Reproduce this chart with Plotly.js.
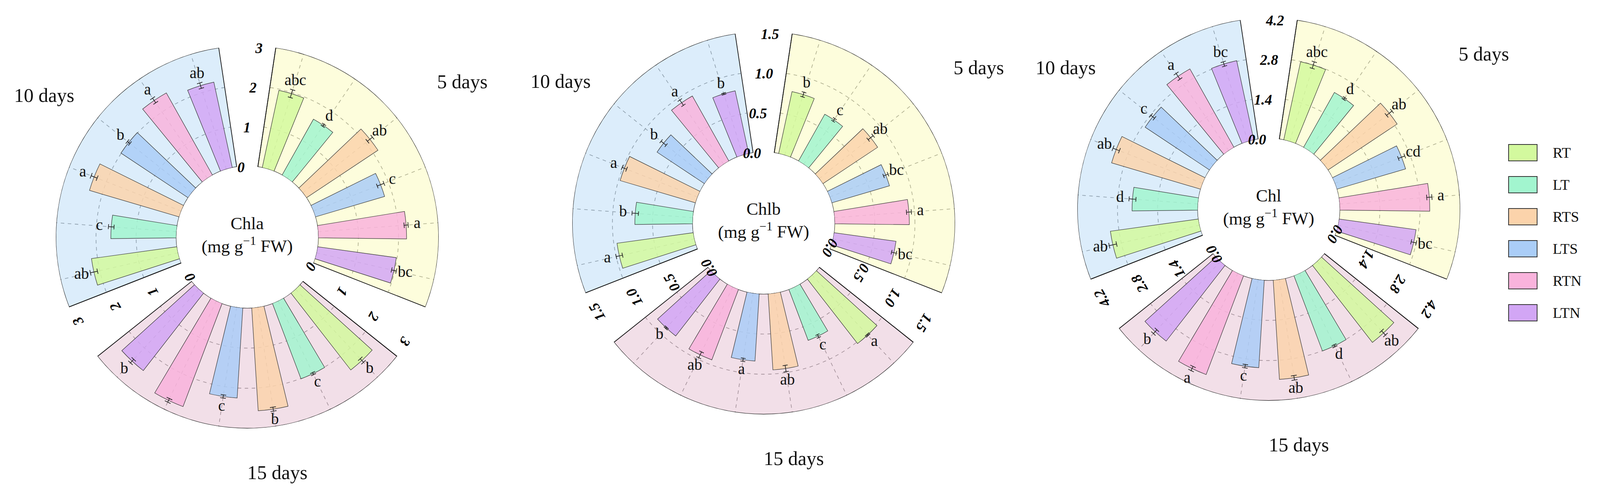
<!DOCTYPE html>
<html>
<head>
<meta charset="utf-8">
<script src="https://cdn.plot.ly/plotly-3.0.1.min.js"></script>
<style>
  html, body { margin: 0; padding: 0; background: #ffffff; }
  #chart { width: 4101px; height: 1260px; }
</style>
</head>
<body>
<div id="chart"></div>
<script>
  // ---- data ----
  const TREATMENTS = ['RT', 'LT', 'RTS', 'LTS', 'RTN', 'LTN'];
  const DAYS = ['5 days', '10 days', '15 days'];

  const CHLA_TICKS = [0, 1, 2, 3];
  const CHLB_TICKS = [0, 0.5, 1.0, 1.5];
  const CHL_TICKS = [0, 1.4, 2.8, 4.2];

  // values in treatment order RT, LT, RTS, LTS, RTN, LTN
  const CHLA_5D = [1.97, 1.60, 2.14, 1.80, 2.20, 1.98];
  const CHLA_10D = [2.15, 1.63, 2.33, 2.01, 2.35, 2.18];
  const CHLA_15D = [2.43, 2.01, 2.57, 2.25, 2.75, 2.45];
  const CHLB_5D = [0.79, 0.67, 0.82, 0.75, 0.93, 0.78];
  const CHLB_10D = [0.96, 0.72, 0.98, 0.71, 0.93, 0.80];
  const CHLB_15D = [1.02, 0.68, 0.95, 0.84, 0.94, 0.90];
  const CHL_5D = [2.79, 2.20, 2.90, 2.50, 3.14, 2.71];
  const CHL_10D = [3.10, 2.29, 3.24, 2.70, 3.14, 2.83];
  const CHL_15D = [3.41, 2.81, 3.47, 3.06, 3.69, 3.35];

  const CHLA_5D_ERR = [0.10, 0.03, 0.08, 0.09, 0.05, 0.06];
  const CHLA_10D_ERR = [0.09, 0.07, 0.08, 0.04, 0.07, 0.07];
  const CHLA_15D_ERR = [0.06, 0.03, 0.05, 0.04, 0.05, 0.06];
  const CHLB_5D_ERR = [0.03, 0.02, 0.04, 0.03, 0.03, 0.03];
  const CHLB_10D_ERR = [0.04, 0.04, 0.03, 0.04, 0.04, 0.01];
  const CHLB_15D_ERR = [0.01, 0.02, 0.04, 0.02, 0.04, 0.01];
  const CHL_5D_ERR = [0.12, 0.04, 0.12, 0.12, 0.09, 0.09];
  const CHL_10D_ERR = [0.13, 0.12, 0.12, 0.08, 0.12, 0.08];
  const CHL_15D_ERR = [0.10, 0.04, 0.08, 0.06, 0.08, 0.09];

  const CHLA_5D_SIG = ['abc', 'd', 'ab', 'c', 'a', 'bc'];
  const CHLA_10D_SIG = ['ab', 'c', 'a', 'b', 'a', 'ab'];
  const CHLA_15D_SIG = ['b', 'c', 'b', 'c', 'a', 'b'];
  const CHLB_5D_SIG = ['b', 'c', 'ab', 'bc', 'a', 'bc'];
  const CHLB_10D_SIG = ['a', 'b', 'a', 'b', 'a', 'b'];
  const CHLB_15D_SIG = ['a', 'c', 'ab', 'a', 'ab', 'b'];
  const CHL_5D_SIG = ['abc', 'd', 'ab', 'cd', 'a', 'bc'];
  const CHL_10D_SIG = ['ab', 'd', 'ab', 'c', 'a', 'bc'];
  const CHL_15D_SIG = ['ab', 'd', 'ab', 'c', 'a', 'b'];

  // ---- styling ----
  const TREAT_COLORS = ['#d3f99e', '#a2f5cf', '#fbd3ab', '#aacdf7', '#f9b3dc', '#d2a6f5'];
  const DAY_COLORS = ['rgba(252,252,192,0.55)', 'rgba(192,223,248,0.55)', 'rgba(232,196,214,0.55)'];
  const SERIF = 'Liberation Serif, Times New Roman, serif';

  const W = 4101, H = 1260;
  const R = 490;
  const HOLE = 0.371;
  const STEP = 360 / 21;          // 6 bars + 1 gap per day
  const DAY_SLOT = [1, 15, 8];    // first slot of each day, clockwise from the top gap
  const CENTERS = [[633, 607], [1955, 571], [3248, 536]];

  const PANELS = [
    { title: 'Chla', ticks: CHLA_TICKS, fmt: 'd',
      values: [CHLA_5D, CHLA_10D, CHLA_15D], errors: [CHLA_5D_ERR, CHLA_10D_ERR, CHLA_15D_ERR],
      sig: [CHLA_5D_SIG, CHLA_10D_SIG, CHLA_15D_SIG] },
    { title: 'Chlb', ticks: CHLB_TICKS, fmt: '.1f',
      values: [CHLB_5D, CHLB_10D, CHLB_15D], errors: [CHLB_5D_ERR, CHLB_10D_ERR, CHLB_15D_ERR],
      sig: [CHLB_5D_SIG, CHLB_10D_SIG, CHLB_15D_SIG] },
    { title: 'Chl', ticks: CHL_TICKS, fmt: '.1f',
      values: [CHL_5D, CHL_10D, CHL_15D], errors: [CHL_5D_ERR, CHL_10D_ERR, CHL_15D_ERR],
      sig: [CHL_5D_SIG, CHL_10D_SIG, CHL_15D_SIG] }
  ];

  const hexToRgba = (hex, a) => {
    const n = parseInt(hex.slice(1), 16);
    return `rgba(${(n >> 16) & 255},${(n >> 8) & 255},${n & 255},${a})`;
  };
  const norm = (a) => ((a % 360) + 360) % 360;
  const barAngle = (d, j) => norm(90 - (DAY_SLOT[d] + j) * STEP);
  const sectorAngle = (d) => norm(90 - (DAY_SLOT[d] + 2.5) * STEP);
  const gapAngle = (d) => norm(90 - (DAY_SLOT[d] - 1) * STEP);
  const edgeAngle = (d) => 90 - (DAY_SLOT[d] - 0.5) * STEP;

  const traces = [];
  const layout = {
    width: W,
    height: H,
    margin: { l: 0, r: 0, t: 0, b: 0 },
    paper_bgcolor: '#ffffff',
    plot_bgcolor: '#ffffff',
    showlegend: false,
    font: { family: SERIF, color: '#000000' },
    annotations: [],
    shapes: []
  };

  const tickFont = { family: SERIF, size: 37, color: '#000000', weight: 700, style: 'italic' };

  PANELS.forEach((panel, p) => {
    const rmax = panel.ticks[panel.ticks.length - 1];
    const ids = [p === 0 ? 'polar' : 'polar' + (3 * p + 1), 'polar' + (3 * p + 2), 'polar' + (3 * p + 3)];
    const [cx, cy] = CENTERS[p];
    const domain = {
      x: [(cx - R) / W, (cx + R) / W],
      y: [1 - (cy + R) / H, 1 - (cy - R) / H]
    };

    // white wedges in the gaps hide the grid there
    traces.push({
      type: 'barpolar', subplot: ids[0],
      r: DAYS.map(() => rmax), theta: DAYS.map((_, d) => gapAngle(d)),
      width: STEP + 0.4,
      marker: { color: '#ffffff', line: { width: 0 } },
      hoverinfo: 'skip', showlegend: false
    });

    // coloured day sectors
    traces.push({
      type: 'barpolar', subplot: ids[0],
      r: DAYS.map(() => rmax), theta: DAYS.map((_, d) => sectorAngle(d)),
      width: 6 * STEP,
      marker: { color: DAY_COLORS, line: { color: '#111111', width: 1.8 } },
      text: DAYS, hoverinfo: 'text', showlegend: false
    });

    // treatment bars
    TREATMENTS.forEach((name, j) => {
      traces.push({
        type: 'barpolar', subplot: ids[0], name: name,
        r: DAYS.map((_, d) => panel.values[d][j]),
        theta: DAYS.map((_, d) => barAngle(d, j)),
        width: 0.58 * STEP,
        marker: { color: hexToRgba(TREAT_COLORS[j], 0.85), line: { color: '#333333', width: 1.2 } },
        showlegend: false
      });
    });

    // error bars
    const er = [], et = [];
    const cap = 1.0;
    DAYS.forEach((_, d) => {
      TREATMENTS.forEach((_, j) => {
        const v = panel.values[d][j], e = panel.errors[d][j], t = barAngle(d, j);
        er.push(v - e, v + e, null, v + e, v + e, null, v - e, v - e, null);
        et.push(t, t, null, t - cap, t + cap, null, t - cap, t + cap, null);
      });
    });
    traces.push({
      type: 'scatterpolar', subplot: ids[0], mode: 'lines',
      r: er, theta: et, line: { color: '#222222', width: 1.7 },
      hoverinfo: 'skip', showlegend: false
    });

    // significance letters
    const lr = [], lt = [], ls = [];
    DAYS.forEach((_, d) => {
      TREATMENTS.forEach((_, j) => {
        lr.push(panel.values[d][j] + panel.errors[d][j] + rmax * 0.075);
        lt.push(barAngle(d, j));
        ls.push(panel.sig[d][j]);
      });
    });
    traces.push({
      type: 'scatterpolar', subplot: ids[0], mode: 'text',
      r: lr, theta: lt, text: ls, textposition: 'middle center',
      textfont: { family: SERIF, size: 40, color: '#111111' },
      hoverinfo: 'skip', showlegend: false
    });

    // empty traces so the overlay subplots (extra radial axes) exist
    [ids[1], ids[2]].forEach((id) => {
      traces.push({
        type: 'scatterpolar', subplot: id, mode: 'markers',
        r: [0], theta: [0], marker: { opacity: 0 },
        hoverinfo: 'skip', showlegend: false
      });
    });

    const radialBase = {
      range: [0, rmax],
      tickmode: 'array',
      tickvals: panel.ticks,
      tickformat: panel.fmt,
      side: 'counterclockwise',
      ticks: '',
      showline: true,
      linecolor: '#111111',
      linewidth: 1.8,
      tickfont: tickFont,
      tickangle: edgeAngle(0)
    };

    layout[ids[0]] = {
      domain: domain,
      hole: HOLE,
      bgcolor: 'rgba(0,0,0,0)',
      radialaxis: Object.assign({}, radialBase, {
        angle: edgeAngle(0),
        showgrid: true,
        gridcolor: '#4d4d4d',
        griddash: 'dash',
        gridwidth: 1.6
      }),
      angularaxis: {
        thetaunit: 'degrees',
        direction: 'counterclockwise',
        rotation: 0,
        tickmode: 'array',
        tickvals: [].concat(...DAYS.map((_, d) => TREATMENTS.map((_, j) => barAngle(d, j)))),
        showticklabels: false,
        ticks: '',
        showline: false,
        showgrid: true,
        gridcolor: '#4d4d4d',
        griddash: 'dash',
        gridwidth: 1.6
      }
    };
    [[ids[1], 2], [ids[2], 1]].forEach(([id, d]) => {
      layout[id] = {
        domain: domain,
        hole: HOLE,
        bgcolor: 'rgba(0,0,0,0)',
        radialaxis: Object.assign({}, radialBase, { angle: edgeAngle(d), showgrid: false }),
        angularaxis: { visible: false, thetaunit: 'degrees', rotation: 0, direction: 'counterclockwise' }
      };
    });

    // centre label
    layout.annotations.push({
      xref: 'paper', yref: 'paper', x: cx / W, y: 1 - cy / H,
      text: panel.title + '<br>(mg g<sup>\u22121</sup> FW)',
      showarrow: false, xanchor: 'center', yanchor: 'middle', yshift: 6,
      font: { family: SERIF, size: 45, color: '#111111' }
    });

    // day labels
    const offsets = [[550, -398], [-520, -363], [77, 603]];
    DAYS.forEach((label, d) => {
      layout.annotations.push({
        xref: 'paper', yref: 'paper',
        x: (cx + offsets[d][0]) / W, y: 1 - (cy + offsets[d][1]) / H,
        text: label, showarrow: false, xanchor: 'center', yanchor: 'middle',
        font: { family: SERIF, size: 50, color: '#111111' }
      });
    });
  });

  // legend drawn by hand so the keys can be large boxes
  TREATMENTS.forEach((name, j) => {
    const yc = 391 + j * 82;
    layout.shapes.push({
      type: 'rect', xref: 'paper', yref: 'paper',
      x0: 3862 / W, x1: 3935 / W, y0: 1 - (yc - 21) / H, y1: 1 - (yc + 21) / H,
      fillcolor: TREAT_COLORS[j], line: { color: '#333333', width: 2 }
    });
    layout.annotations.push({
      xref: 'paper', yref: 'paper', x: 3973 / W, y: 1 - yc / H,
      text: name, showarrow: false, xanchor: 'left', yanchor: 'middle',
      font: { family: SERIF, size: 38, color: '#111111' }
    });
  });

  Plotly.newPlot('chart', traces, layout, { displayModeBar: false, staticPlot: true });
</script>
</body>
</html>
